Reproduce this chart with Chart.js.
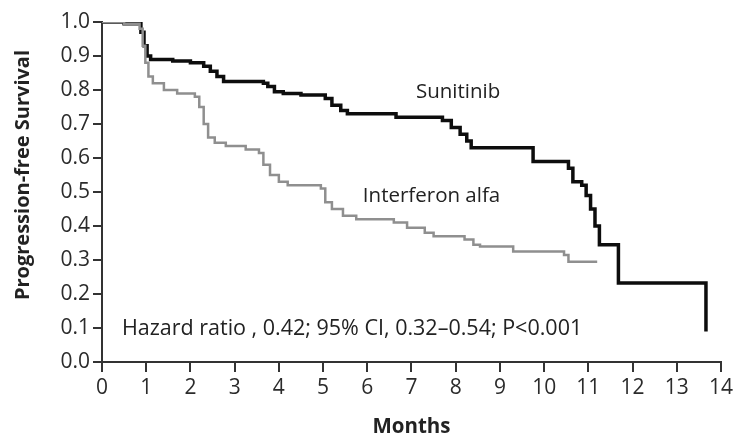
<!DOCTYPE html>
<html>
<head>
<meta charset="utf-8">
<script src="https://cdn.jsdelivr.net/npm/chart.js@4/dist/chart.umd.min.js"></script>
<style>
  html, body { margin: 0; padding: 0; background: #fff; }
  #wrap { width: 736px; height: 437px; position: relative; }
</style>
</head>
<body>
<div id="wrap"><canvas id="km"></canvas></div>
<script>
// Kaplan-Meier steps (months, survival)
var sunitinibMonths = [0, 0.5, 0.88, 0.95, 1.02, 1.1, 1.6, 2.0, 2.3, 2.45, 2.6, 2.75, 3.65, 3.75, 3.9, 4.1, 4.5, 5.05, 5.2, 5.4, 5.55, 6.65, 7.7, 7.9, 8.1, 8.25, 8.35, 9.75, 10.55, 10.65, 10.85, 10.95, 11.05, 11.15, 11.25, 11.68, 13.66];
var sunitinibSurv = [1.0, 0.995, 0.97, 0.93, 0.90, 0.89, 0.885, 0.88, 0.87, 0.855, 0.84, 0.825, 0.82, 0.81, 0.795, 0.79, 0.785, 0.775, 0.755, 0.74, 0.73, 0.72, 0.71, 0.69, 0.67, 0.65, 0.63, 0.59, 0.57, 0.53, 0.52, 0.49, 0.45, 0.40, 0.345, 0.232, 0.09];

var ifnMonths = [0, 0.5, 0.85, 0.92, 0.98, 1.05, 1.15, 1.4, 1.7, 2.1, 2.2, 2.3, 2.4, 2.55, 2.8, 3.25, 3.55, 3.65, 3.8, 4.0, 4.2, 4.95, 5.05, 5.2, 5.45, 5.75, 6.6, 6.9, 7.3, 7.5, 8.2, 8.4, 8.55, 9.3, 10.45, 10.55, 11.2];
var ifnSurv = [1.0, 0.995, 0.98, 0.93, 0.88, 0.84, 0.82, 0.80, 0.79, 0.78, 0.75, 0.70, 0.66, 0.645, 0.635, 0.625, 0.615, 0.58, 0.55, 0.53, 0.52, 0.51, 0.47, 0.45, 0.43, 0.42, 0.41, 0.395, 0.38, 0.37, 0.36, 0.345, 0.34, 0.325, 0.315, 0.295, 0.295];

var xTicks = [0, 1, 2, 3, 4, 5, 6, 7, 8, 9, 10, 11, 12, 13, 14];
var yTicks = [0.0, 0.1, 0.2, 0.3, 0.4, 0.5, 0.6, 0.7, 0.8, 0.9, 1.0];

var seriesNames = ['Sunitinib', 'Interferon alfa'];
var statsText = 'Hazard ratio , 0.42; 95% CI, 0.32\u20130.54; P<0.001';
var yTitle = 'Progression-free Survival';

function toPoints(xs, ys) {
  return xs.map(function (x, i) { return { x: x, y: ys[i] }; });
}

var FONT = '"Open Sans", "DejaVu Sans", sans-serif';
var TEXT = '#2b2b2b';
var AXIS = '#333';

var textPlugin = {
  id: 'kmLabels',
  afterDatasetsDraw: function (chart) {
    var ctx = chart.ctx;
    var xs = chart.scales.x, ys = chart.scales.y;
    ctx.save();
    ctx.fillStyle = '#222';
    ctx.font = '20.5px ' + FONT;
    ctx.textBaseline = 'middle';
    ctx.textAlign = 'left';
    ctx.fillText(seriesNames[0], xs.getPixelForValue(7.1), ys.getPixelForValue(0.793));
    ctx.fillText(seriesNames[1], xs.getPixelForValue(5.9), ys.getPixelForValue(0.488));
    ctx.font = '21.5px ' + FONT;
    ctx.fillText(statsText, xs.getPixelForValue(0.45), ys.getPixelForValue(0.097));

    // y axis title, sitting a little above the plot's middle as in the figure
    ctx.translate(23, ys.getPixelForValue(0.55));
    ctx.rotate(-Math.PI / 2);
    ctx.textAlign = 'center';
    ctx.font = 'bold 20px ' + FONT;
    ctx.fillText(yTitle, 0, 0);
    ctx.restore();
  }
};

var whiteBg = {
  id: 'whiteBg',
  beforeDraw: function (chart) {
    var ctx = chart.ctx;
    ctx.save();
    ctx.globalCompositeOperation = 'destination-over';
    ctx.fillStyle = 'white';
    ctx.fillRect(0, 0, chart.width, chart.height);
    ctx.restore();
  }
};

var chart = new Chart(document.getElementById('km'), {
  type: 'line',
  data: {
    datasets: [
      {
        label: seriesNames[1],
        data: toPoints(ifnMonths, ifnSurv),
        borderColor: '#8f8f8f',
        borderWidth: 2.5,
        stepped: 'before',
        pointRadius: 0,
        fill: false
      },
      {
        label: seriesNames[0],
        data: toPoints(sunitinibMonths, sunitinibSurv),
        borderColor: '#0d0d0d',
        borderWidth: 3.5,
        stepped: 'before',
        pointRadius: 0,
        fill: false
      }
    ]
  },
  options: {
    animation: false,
    responsive: true,
    maintainAspectRatio: false,
    layout: { padding: { left: 0, right: 11, top: 22, bottom: 0 } },
    plugins: {
      legend: { display: false },
      tooltip: { enabled: false }
    },
    scales: {
      x: {
        type: 'linear',
        min: 0,
        max: 14,
        afterBuildTicks: function (axis) {
          axis.ticks = xTicks.map(function (v) { return { value: v }; });
        },
        afterFit: function (axis) { axis.height = 75; },
        ticks: {
          color: TEXT,
          font: { family: FONT, size: 21 },
          padding: 3,
          maxRotation: 0,
          autoSkip: false
        },
        grid: { drawOnChartArea: false, tickLength: 10, color: AXIS, lineWidth: 2 },
        border: { color: AXIS, width: 2 },
        title: {
          display: true,
          text: 'Months',
          color: '#222',
          font: { family: FONT, size: 20.5, weight: 'bold', lineHeight: 1 },
          padding: { top: 0, bottom: 0 }
        }
      },
      y: {
        type: 'linear',
        min: 0,
        max: 1,
        afterBuildTicks: function (axis) {
          axis.ticks = yTicks.map(function (v) { return { value: v }; });
        },
        afterFit: function (axis) { axis.width = 102; },
        ticks: {
          color: TEXT,
          font: { family: FONT, size: 21 },
          padding: 3,
          callback: function (v) { return v.toFixed(1); }
        },
        grid: { drawOnChartArea: false, tickLength: 9, color: AXIS, lineWidth: 2 },
        border: { color: AXIS, width: 2 },
        title: { display: false }
      }
    }
  },
  plugins: [whiteBg, textPlugin]
});
</script>
</body>
</html>
